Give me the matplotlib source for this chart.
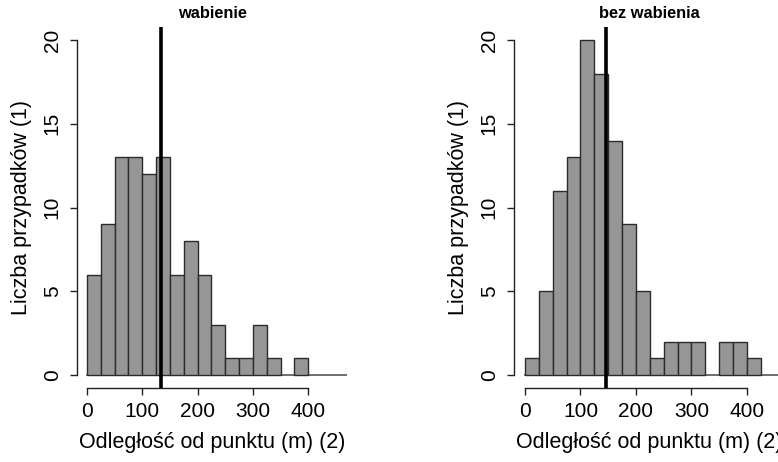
import numpy as np
import matplotlib
matplotlib.use("Agg")
import matplotlib.pyplot as plt

plt.rcParams['font.family'] = ['Liberation Sans', 'DejaVu Sans']

# histogram counts, bins of 25 m starting at 0
bin_width = 25
left_counts = [6, 9, 13, 13, 12, 13, 6, 8, 6, 3, 1, 1, 3, 1, 0, 1]
right_counts = [1, 5, 11, 13, 20, 18, 14, 9, 5, 1, 2, 2, 2, 0, 2, 2, 1]
left_mean = 133
right_mean = 146
titles = ["wabienie", "bez wabienia"]
xlabel = "Odległość od punktu (m) (2)"
ylabel = "Liczba przypadków (1)"
xticks = [0, 100, 200, 300, 400]
yticks = [0, 5, 10, 15, 20]

W, H = 778, 462
fig = plt.figure(figsize=(W / 100, H / 100), dpi=100)

def panel(left_px, xlim, counts, mean, title):
    bottom_px, top_px = 388.4, 26.6
    ax = fig.add_axes([left_px / W, 1 - bottom_px / H, 270 / W, (bottom_px - top_px) / H])
    ax.set_xlim(*xlim)
    ax.set_ylim(-0.8, 20.8)
    edges = np.arange(len(counts)) * bin_width
    c = np.array(counts)
    m = c > 0
    ax.bar(edges[m], c[m], width=bin_width, align='edge', color='#969696',
           edgecolor='#2b2b2b', linewidth=1.0, zorder=2)
    ax.plot([0, xlim[1]], [0, 0], color='#555555', lw=1.2, zorder=1)
    ax.axvline(mean, color='black', lw=2.6, zorder=3)
    for s in ['top', 'right']:
        ax.spines[s].set_visible(False)
    ax.spines['left'].set_bounds(0, 20)
    ax.spines['bottom'].set_bounds(0, 400)
    for s in ['left', 'bottom']:
        ax.spines[s].set_color('#222222')
        ax.spines[s].set_linewidth(1.0)
    ax.set_xticks(xticks)
    ax.set_yticks(yticks)
    ax.tick_params(direction='out', length=5, width=1.0, color='#222222',
                   labelsize=15, pad=5)
    ax.tick_params(axis='y', labelrotation=90, pad=6)
    for lab in ax.get_yticklabels():
        lab.set_va('center')
    ax.set_xlabel(xlabel, fontsize=15.5, labelpad=8)
    ax.set_ylabel(ylabel, fontsize=15.5, labelpad=8)
    ax.set_title(title, fontsize=11.8, fontweight='bold', pad=6)
    ax.patch.set_visible(False)
    return ax

panel(77, (-18, 470), left_counts, left_mean, titles[0])
panel(514, (-19.8, 466.7), right_counts, right_mean, titles[1])

fig.savefig("out.png", dpi=100)
